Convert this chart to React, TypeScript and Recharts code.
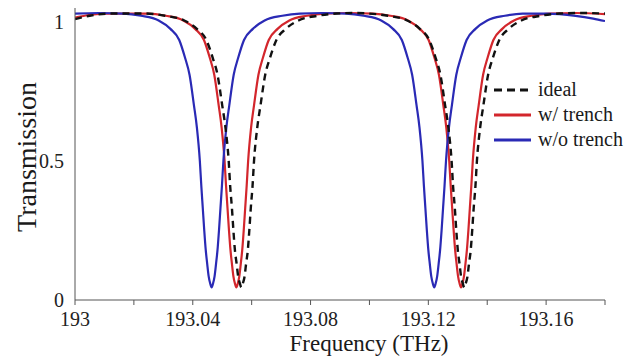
import React from 'react';
import { LineChart, Line, XAxis, YAxis, Legend, Label } from 'recharts';

// ---- data ----
const xTicks = [193, 193.02, 193.04, 193.06, 193.08, 193.1, 193.12, 193.14, 193.16, 193.18];
const xTickLabels = ['193', '', '193.04', '', '193.08', '', '193.12', '', '193.16', ''];
const yTicks = [0, 0.5, 1];

const seriesNames = ['ideal', 'w/ trench', 'w/o trench'];

const idealFreq = [
  193.0, 193.005, 193.012, 193.0241, 193.0306, 193.0371, 193.0414, 193.0446, 193.0468, 193.0484, 193.05, 193.0511,
  193.0522, 193.0527, 193.0533, 193.0538, 193.0543, 193.0549, 193.0554, 193.056, 193.0565, 193.057, 193.0576,
  193.0581, 193.0587, 193.0592, 193.0597, 193.0603, 193.0608, 193.0619, 193.063, 193.0646, 193.0662, 193.0684,
  193.0716, 193.0759, 193.0824, 193.0889, 193.0944, 193.0998, 193.1063, 193.1128, 193.1171, 193.1203, 193.1225,
  193.1241, 193.1257, 193.1268, 193.1279, 193.1284, 193.129, 193.1295, 193.13, 193.1306, 193.1311, 193.1317,
  193.1322, 193.1327, 193.1333, 193.1338, 193.1344, 193.1349, 193.1354, 193.136, 193.1365, 193.1376, 193.1387,
  193.1403, 193.1419, 193.1441, 193.1473, 193.1516, 193.1581, 193.1646, 193.172, 193.18,
];
const idealT = [
  1.01, 1.022, 1.03, 1.03, 1.022, 1.005, 0.975, 0.935, 0.87, 0.81, 0.7, 0.62,
  0.5, 0.41, 0.33, 0.25, 0.18, 0.13, 0.085, 0.06, 0.045, 0.06, 0.085,
  0.13, 0.18, 0.25, 0.33, 0.41, 0.5, 0.62, 0.7, 0.81, 0.87, 0.935,
  0.975, 1.005, 1.022, 1.03, 1.032, 1.03, 1.022, 1.005, 0.975, 0.935, 0.87,
  0.81, 0.7, 0.62, 0.5, 0.41, 0.33, 0.25, 0.18, 0.13, 0.085, 0.06,
  0.045, 0.06, 0.085, 0.13, 0.18, 0.25, 0.33, 0.41, 0.5, 0.62, 0.7,
  0.81, 0.87, 0.935, 0.975, 1.005, 1.022, 1.03, 1.032, 1.03,
];

const trenchFreq = [
  193.0, 193.004, 193.01, 193.0248, 193.0308, 193.0368, 193.0408, 193.0438, 193.0458, 193.0473, 193.0488, 193.0498,
  193.0508, 193.0513, 193.0518, 193.0523, 193.0528, 193.0533, 193.0538, 193.0543, 193.0548, 193.0553, 193.0558,
  193.0563, 193.0568, 193.0573, 193.0578, 193.0583, 193.0588, 193.0598, 193.0608, 193.0623, 193.0638, 193.0658,
  193.0688, 193.0728, 193.0788, 193.0848, 193.093, 193.1011, 193.1071, 193.1131, 193.1171, 193.1201, 193.1221,
  193.1236, 193.1251, 193.1261, 193.1271, 193.1276, 193.1281, 193.1286, 193.1291, 193.1296, 193.1301, 193.1306,
  193.1311, 193.1316, 193.1321, 193.1326, 193.1331, 193.1336, 193.1341, 193.1346, 193.1351, 193.1361, 193.1371,
  193.1386, 193.1401, 193.1421, 193.1451, 193.1491, 193.1551, 193.1611, 193.17, 193.18,
];
const trenchT = [
  1.015, 1.024, 1.03, 1.03, 1.022, 1.005, 0.975, 0.935, 0.87, 0.81, 0.7, 0.62,
  0.5, 0.41, 0.33, 0.25, 0.18, 0.13, 0.085, 0.06, 0.045, 0.06, 0.085,
  0.13, 0.18, 0.25, 0.33, 0.41, 0.5, 0.62, 0.7, 0.81, 0.87, 0.935,
  0.975, 1.005, 1.022, 1.03, 1.032, 1.03, 1.022, 1.005, 0.975, 0.935, 0.87,
  0.81, 0.7, 0.62, 0.5, 0.41, 0.33, 0.25, 0.18, 0.13, 0.085, 0.06,
  0.045, 0.06, 0.085, 0.13, 0.18, 0.25, 0.33, 0.41, 0.5, 0.62, 0.7,
  0.81, 0.87, 0.935, 0.975, 1.005, 1.022, 1.03, 1.032, 1.028,
];

const noTrenchFreq = [
  193.0, 193.008, 193.0164, 193.0224, 193.0284, 193.0324, 193.0354, 193.0374, 193.0389, 193.0404, 193.0414, 193.0424,
  193.0429, 193.0434, 193.0439, 193.0444, 193.0449, 193.0454, 193.0459, 193.0464, 193.0469, 193.0474, 193.0479,
  193.0484, 193.0489, 193.0494, 193.0499, 193.0504, 193.0514, 193.0524, 193.0539, 193.0554, 193.0574, 193.0604,
  193.0644, 193.0704, 193.0764, 193.084, 193.092, 193.098, 193.104, 193.108, 193.111, 193.113, 193.1145,
  193.116, 193.117, 193.118, 193.1185, 193.119, 193.1195, 193.12, 193.1205, 193.121, 193.1215, 193.122,
  193.1225, 193.123, 193.1235, 193.124, 193.1245, 193.125, 193.1255, 193.126, 193.127, 193.128, 193.1295,
  193.131, 193.133, 193.136, 193.14, 193.146, 193.152, 193.16, 193.17, 193.176, 193.18,
];
const noTrenchT = [
  1.03, 1.032, 1.03, 1.022, 1.005, 0.975, 0.935, 0.87, 0.81, 0.7, 0.62, 0.5,
  0.41, 0.33, 0.25, 0.18, 0.13, 0.085, 0.06, 0.045, 0.06, 0.085, 0.13,
  0.18, 0.25, 0.33, 0.41, 0.5, 0.62, 0.7, 0.81, 0.87, 0.935, 0.975,
  1.005, 1.022, 1.03, 1.032, 1.03, 1.022, 1.005, 0.975, 0.935, 0.87, 0.81,
  0.7, 0.62, 0.5, 0.41, 0.33, 0.25, 0.18, 0.13, 0.085, 0.06, 0.045,
  0.06, 0.085, 0.13, 0.18, 0.25, 0.33, 0.41, 0.5, 0.62, 0.7, 0.81,
  0.87, 0.935, 0.975, 1.005, 1.022, 1.03, 1.03, 1.022, 1.012, 1.003,
];

const colors = { ideal: '#111111', trench: '#d3262c', noTrench: '#2a2ab5' };

const toPoints = (fs: number[], ts: number[]) => fs.map((f, i) => ({ f, t: ts[i] }));
const idealData = toPoints(idealFreq, idealT);
const trenchData = toPoints(trenchFreq, trenchT);
const noTrenchData = toPoints(noTrenchFreq, noTrenchT);

const FONT = '"Liberation Serif", "Times New Roman", serif';

const legendItems = [
  { name: seriesNames[0], color: colors.ideal, dash: '8 5' },
  { name: seriesNames[1], color: colors.trench, dash: undefined },
  { name: seriesNames[2], color: colors.noTrench, dash: undefined },
];

const LegendContent = () => (
  <div style={{ fontFamily: FONT, fontSize: 20, color: '#1a1a1a' }}>
    {legendItems.map((it) => (
      <div key={it.name} style={{ display: 'flex', alignItems: 'center', height: 25 }}>
        <svg width={40} height={10} style={{ marginRight: 5 }}>
          <line x1={1} y1={5} x2={38} y2={5} stroke={it.color} strokeWidth={3} strokeDasharray={it.dash} />
        </svg>
        <span style={{ lineHeight: '25px' }}>{it.name}</span>
      </div>
    ))}
  </div>
);

export default function App() {
  return (
    <div style={{ position: 'absolute', left: 0, top: 0, width: 640, height: 361, background: '#fff' }}>
      <LineChart width={640} height={361} margin={{ top: 8, right: 35, left: 0, bottom: 0 }}>
        <XAxis
          type="number"
          dataKey="f"
          domain={[193, 193.18]}
          ticks={xTicks}
          allowDataOverflow
          tickFormatter={(v: number, i: number) => xTickLabels[i] ?? ''}
          height={61}
          tickSize={5}
          tickMargin={7}
          stroke="#555"
          tick={{ fill: '#222', fontFamily: FONT, fontSize: 20 }}
        >
          <Label
            content={() => (
              <text x={369} y={351} textAnchor="middle" fontFamily={FONT} fontSize={23} fill="#1a1a1a">
                Frequency (THz)
              </text>
            )}
          />
        </XAxis>
        <YAxis
          type="number"
          dataKey="t"
          domain={[0, 1.05]}
          ticks={yTicks}
          width={75}
          tickLine={false}
          tickSize={6}
          tickMargin={5}
          stroke="#555"
          tick={{ fill: '#222', fontFamily: FONT, fontSize: 20 }}
        >
          <Label
            content={() => (
              <text
                x={26}
                y={157}
                textAnchor="middle"
                dominantBaseline="central"
                transform="rotate(-90 26 157)"
                fontFamily={FONT}
                fontSize={28}
                fill="#1a1a1a"
              >
                Transmission
              </text>
            )}
          />
        </YAxis>
        <Legend
          layout="vertical"
          align="center"
          verticalAlign="middle"
          content={<LegendContent />}
          wrapperStyle={{ position: 'absolute', left: 493, top: 77, width: 145 }}
        />
        <Line data={trenchData} dataKey="t" name={seriesNames[1]} type="monotone" stroke={colors.trench} strokeWidth={2.2} dot={false} isAnimationActive={false} />
        <Line data={noTrenchData} dataKey="t" name={seriesNames[2]} type="monotone" stroke={colors.noTrench} strokeWidth={2.2} dot={false} isAnimationActive={false} />
        <Line data={idealData} dataKey="t" name={seriesNames[0]} type="monotone" stroke={colors.ideal} strokeWidth={2.4} strokeDasharray="7 5" dot={false} isAnimationActive={false} />
      </LineChart>
    </div>
  );
}
